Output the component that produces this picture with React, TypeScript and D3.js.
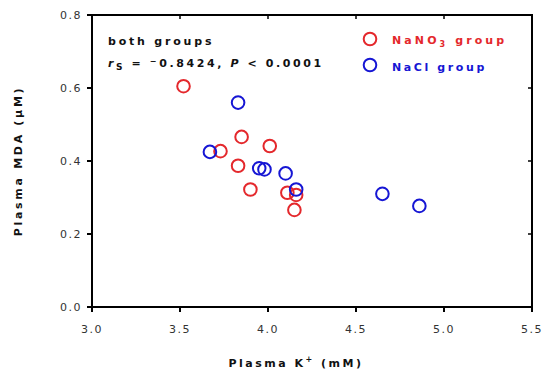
import * as d3 from 'd3';

const nano3K = [3.52, 3.73, 3.85, 4.01, 3.83, 3.9, 4.11, 4.16, 4.15];
const nano3MDA = [0.605, 0.427, 0.466, 0.441, 0.387, 0.322, 0.313, 0.307, 0.266];
const naclK = [3.67, 3.83, 3.95, 3.98, 4.1, 4.16, 4.65, 4.86];
const naclMDA = [0.425, 0.56, 0.38, 0.377, 0.366, 0.322, 0.31, 0.277];
const xTicks = [3.0, 3.5, 4.0, 4.5, 5.0, 5.5];
const yTicks = [0.0, 0.2, 0.4, 0.6, 0.8];

const RED = '#e4282c';
const BLUE = '#1616d4';
const FONT = 'Verdana, "DejaVu Sans", sans-serif';

export default function App() {
  const width = 550;
  const height = 380;
  const margin = { top: 15, right: 18, bottom: 72, left: 92 };

  const x = d3.scaleLinear().domain([3.0, 5.5]).range([margin.left, width - margin.right]);
  const y = d3.scaleLinear().domain([0, 0.8]).range([height - margin.bottom - 1, margin.top]);

  const x0 = x.range()[0];
  const x1 = x.range()[1];
  const y0 = y.range()[0];
  const y1 = y.range()[1];

  const nano3 = nano3K.map((k, i) => ({ k, m: nano3MDA[i] }));
  const nacl = naclK.map((k, i) => ({ k, m: naclMDA[i] }));

  return (
    <svg width={width} height={height} style={{ position: 'absolute', left: 0, top: 0, background: '#fff' }}>
      {/* frame */}
      <rect x={x0} y={y1} width={x1 - x0} height={y0 - y1} fill="none" stroke="#000" strokeWidth={2} />

      {/* x ticks */}
      {xTicks.map(t => (
        <g key={'x' + t}>
          <line x1={x(t)} x2={x(t)} y1={y0} y2={y0 + 5} stroke="#000" strokeWidth={2} />
          <line x1={x(t)} x2={x(t)} y1={y1} y2={y1 + 4} stroke="#000" strokeWidth={1.5} />
          <text x={x(t)} y={y0 + 26} textAnchor="middle" fontFamily={FONT} fontSize={11} fill="#333" letterSpacing={1.5}>
            {t.toFixed(1)}
          </text>
        </g>
      ))}

      {/* y ticks */}
      {yTicks.map(t => (
        <g key={'y' + t}>
          <line x1={x0 - 5} x2={x0} y1={y(t)} y2={y(t)} stroke="#000" strokeWidth={2} />
          <line x1={x1 - 4} x2={x1} y1={y(t)} y2={y(t)} stroke="#000" strokeWidth={1.5} />
          <text x={x0 - 10} y={y(t) + 4} textAnchor="end" fontFamily={FONT} fontSize={11} fill="#333" letterSpacing={1.5}>
            {t.toFixed(1)}
          </text>
        </g>
      ))}

      {/* axis titles */}
      <text x={296} y={367} textAnchor="middle" fontFamily={FONT} fontSize={11} fontWeight="bold" fill="#111" letterSpacing={2.5}>
        Plasma K<tspan dy={-5} fontSize={8}>+</tspan><tspan dy={5}> (mM)</tspan>
      </text>
      <text
        transform={`translate(22, ${(y0 + y1) / 2}) rotate(-90)`}
        textAnchor="middle"
        fontFamily={FONT}
        fontSize={11}
        fontWeight="bold"
        fill="#111"
        letterSpacing={2.7}
      >
        Plasma MDA (µM)
      </text>

      {/* annotation */}
      <text x={108} y={45} fontFamily={FONT} fontSize={11} fontWeight="bold" fill="#111" letterSpacing={2.8}>
        both groups
      </text>
      <text x={108} y={67} fontFamily={FONT} fontSize={11} fontWeight="bold" fill="#111" letterSpacing={2.6}>
        <tspan fontStyle="italic">r</tspan>
        <tspan dy={3} fontSize={9}>S</tspan>
        <tspan dy={-3}> = </tspan>
        <tspan dy={-3} fontSize={8}>−</tspan>
        <tspan dy={3}>0.8424, </tspan>
        <tspan fontStyle="italic">P</tspan>
        <tspan> &lt; 0.0001</tspan>
      </text>

      {/* legend */}
      <circle cx={370} cy={39} r={6.3} fill="none" stroke={RED} strokeWidth={2} />
      <text x={392} y={44} fontFamily={FONT} fontSize={11} fontWeight="bold" fill={RED} letterSpacing={3.1}>
        NaNO<tspan dy={3} fontSize={8}>3</tspan><tspan dy={-3}> group</tspan>
      </text>
      <circle cx={370} cy={65} r={6.3} fill="none" stroke={BLUE} strokeWidth={2} />
      <text x={392} y={71} fontFamily={FONT} fontSize={11} fontWeight="bold" fill={BLUE} letterSpacing={2.6}>
        NaCl group
      </text>

      {/* points */}
      {nano3.map((d, i) => (
        <circle key={'r' + i} cx={x(d.k)} cy={y(d.m)} r={6.3} fill="none" stroke={RED} strokeWidth={2} />
      ))}
      {nacl.map((d, i) => (
        <circle key={'b' + i} cx={x(d.k)} cy={y(d.m)} r={6.3} fill="none" stroke={BLUE} strokeWidth={2} />
      ))}
    </svg>
  );
}
